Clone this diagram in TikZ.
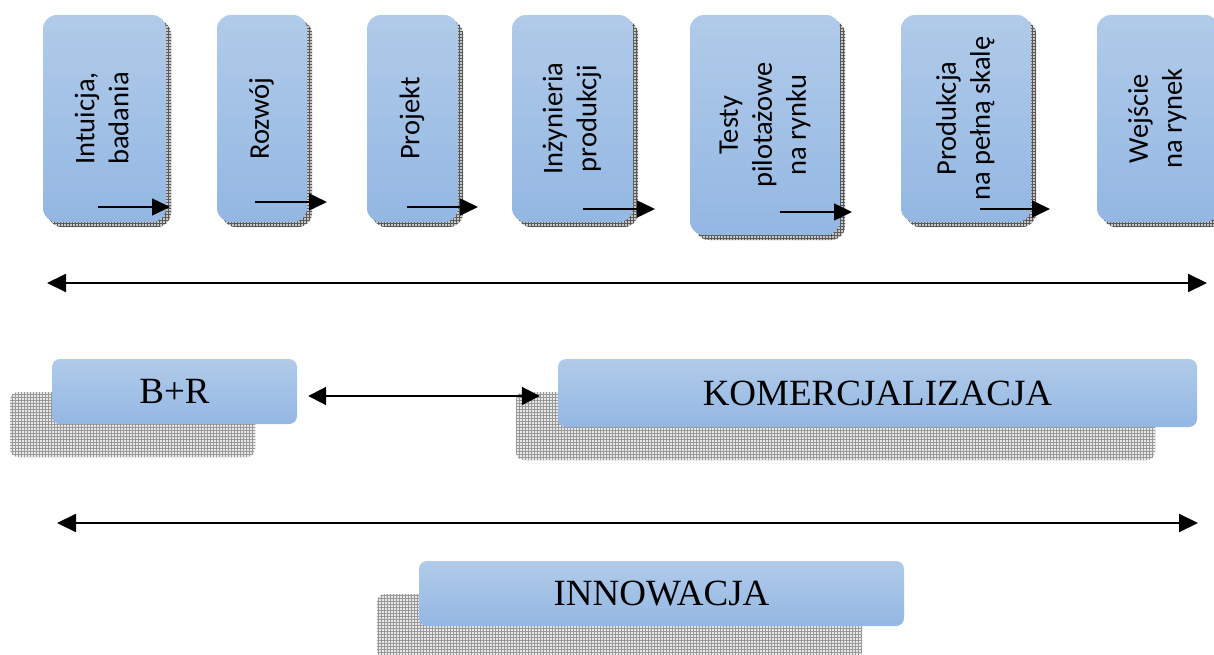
\documentclass[tikz,border=0pt]{standalone}
\usepackage{fontspec}
\setmainfont{Carlito}
\newfontfamily\tnr{Liberation Serif}
\usetikzlibrary{arrows.meta,patterns,shadows}
\definecolor{boxtop}{HTML}{B1CBE9}
\definecolor{boxbot}{HTML}{93B7E3}
\newcommand{\vlines}[1]{\rotatebox{90}{\begin{tabular}{@{}c@{}}#1\end{tabular}}}
\begin{document}
\begin{tikzpicture}[x=1pt,y=-1pt,
  shadowtex/.style n args={4}{
    general shadow={fill=gray!#3, shadow xshift=#1, shadow yshift=#2},
    general shadow={pattern=grid, pattern color=#4, shadow xshift=#1, shadow yshift=#2}},
  stagebox/.style={rounded corners=14pt, top color=boxtop, bottom color=boxbot, draw=none,
    inner sep=0pt, font=\fontsize{28.5}{34}\selectfont, shadowtex={5pt}{-5pt}{45}{gray!70!black}},
  phasebox/.style={rounded corners=8pt, top color=boxtop, bottom color=boxbot, draw=none,
    inner sep=0pt, font=\tnr\fontsize{37}{40}\selectfont, shadowtex={-42pt}{-33pt}{18}{gray!80}},
  sarrow/.style={line width=1.5pt, -{Triangle[length=18pt,width=17pt]}},
  larrow/.style={line width=2pt, {Triangle[length=19pt,width=18pt]}-{Triangle[length=19pt,width=18pt]}},
  marrow/.style={line width=2pt, {Triangle[length=18pt,width=18pt]}-{Triangle[length=18pt,width=18pt]}}
]
\clip (0,0) rectangle (1214,655);
\fill[white] (0,0) rectangle (1214,655);

% stage boxes
\node[stagebox, minimum width=123pt, minimum height=207pt] (s1) at (104.5,118.5) {\vlines{Intuicja,\\badania}};
\node[stagebox, minimum width=90pt, minimum height=207pt] (s2) at (262,118.5) {\vlines{Rozwój}};
\node[stagebox, minimum width=91pt, minimum height=207pt] (s3) at (412.5,118.5) {\vlines{Projekt}};
\node[stagebox, minimum width=121pt, minimum height=207pt] (s4) at (572.5,118.5) {\vlines{Inżynieria\\produkcji}};
\node[stagebox, minimum width=150pt, minimum height=220pt] (s5) at (765,125) {\vlines{Testy\\pilotażowe\\na rynku}};
\node[stagebox, minimum width=130pt, minimum height=207pt] (s6) at (966,118.5) {\vlines{Produkcja\\na pełną skalę}};
\node[stagebox, minimum width=122pt, minimum height=207pt] (s7) at (1158,118.5) {\vlines{Wejście\\na rynek}};

% small arrows
\coordinate (a1s) at (98,207);  \coordinate (a1e) at (170,207);
\coordinate (a2s) at (255,202); \coordinate (a2e) at (327,202);
\coordinate (a3s) at (407,207); \coordinate (a3e) at (478,207);
\coordinate (a4s) at (583,209); \coordinate (a4e) at (655,209);
\coordinate (a5s) at (780,212); \coordinate (a5e) at (852,212);
\coordinate (a6s) at (980,209); \coordinate (a6e) at (1050,209);
\foreach \i in {1,...,6} {\draw[sarrow] (a\i s) -- (a\i e);}

% long arrow 1
\coordinate (l1a) at (47,283); \coordinate (l1b) at (1207,283);
\draw[larrow] (l1a) -- (l1b);

% phase boxes
\node[phasebox, minimum width=245pt, minimum height=65pt] (br) at (174.5,391.5) {B+R};
\node[phasebox, minimum width=639pt, minimum height=68pt] (kom) at (877.5,393) {KOMERCJALIZACJA};
\path (br.east) ++(0,4.5) coordinate (m1);
\path (kom.west) ++(0,3) coordinate (m2);
\draw[marrow, shorten <=11pt, shorten >=18pt] (m1) -- (m2);

% long arrow 2
\coordinate (l2a) at (57,523); \coordinate (l2b) at (1198,523);
\draw[larrow] (l2a) -- (l2b);

\node[phasebox, minimum width=485pt, minimum height=65pt] (inn) at (661.5,593.5) {INNOWACJA};
\end{tikzpicture}
\end{document}
